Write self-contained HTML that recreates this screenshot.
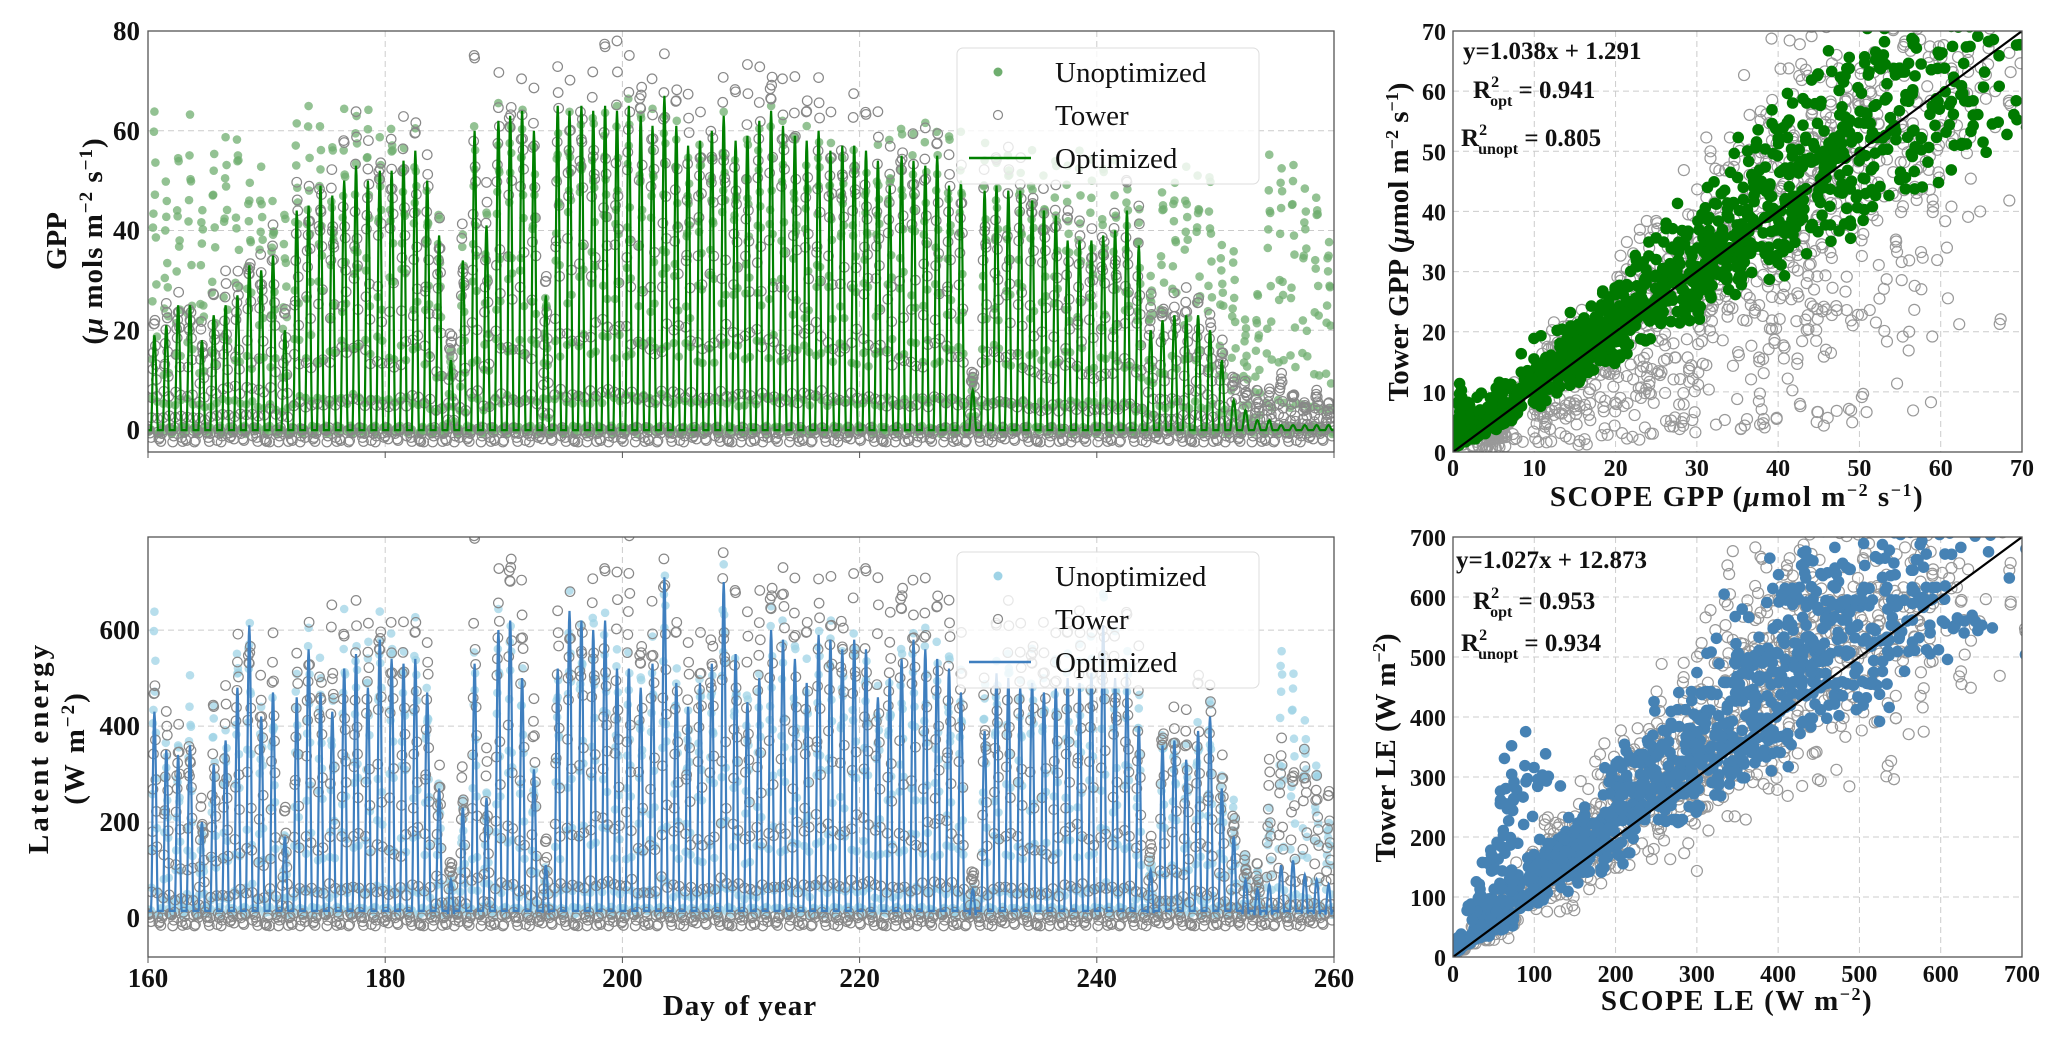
<!DOCTYPE html>
<html><head><meta charset="utf-8">
<style>
html,body{margin:0;padding:0;background:#fff;}
svg{display:block;font-family:"Liberation Serif",serif;}
.tick{font-size:27px;font-weight:bold;fill:#111;}
.stick{font-size:24px;font-weight:bold;fill:#111;}
.ttl{font-size:29px;font-weight:bold;fill:#111;}
.leg{font-size:29px;fill:#111;}
.ann{font-size:25px;font-weight:bold;fill:#111;}
</style></head>
<body>
<svg id="fig" width="2067" height="1045" viewBox="0 0 2067 1045" xmlns="http://www.w3.org/2000/svg">
<g id="gA"></g>
<g id="gB"></g>
<g id="gC"></g>
<g id="gD"></g>
<g>
<text class="ttl" transform="translate(66,241) rotate(-90)" text-anchor="middle">GPP</text>
<text class="ttl" transform="translate(102,241) rotate(-90)" text-anchor="middle" letter-spacing="1">(<tspan font-style="italic">μ</tspan> mols m<tspan dy="-10" font-size="19">−2</tspan><tspan dy="10"> s</tspan><tspan dy="-10" font-size="19">−1</tspan><tspan dy="10">)</tspan></text>
<text class="ttl" transform="translate(48,748) rotate(-90)" text-anchor="middle" letter-spacing="3">Latent  energy</text>
<text class="ttl" transform="translate(84,748) rotate(-90)" text-anchor="middle" letter-spacing="2">(W m<tspan dy="-10" font-size="19">−2</tspan><tspan dy="10">)</tspan></text>
<text class="ttl" x="740" y="1015" text-anchor="middle" letter-spacing="1">Day  of  year</text>
<text class="ttl" transform="translate(1408,242) rotate(-90)" text-anchor="middle" font-size="27">Tower GPP (<tspan font-style="italic">μ</tspan>mol m<tspan dy="-10" font-size="18">−2</tspan><tspan dy="10"> s</tspan><tspan dy="-10" font-size="18">−1</tspan><tspan dy="10">)</tspan></text>
<text class="ttl" x="1737" y="506" text-anchor="middle" font-size="27" letter-spacing="1.5">SCOPE GPP (<tspan font-style="italic">μ</tspan>mol m<tspan dy="-10" font-size="18">−2</tspan><tspan dy="10"> s</tspan><tspan dy="-10" font-size="18">−1</tspan><tspan dy="10">)</tspan></text>
<text class="ttl" transform="translate(1395,748) rotate(-90)" text-anchor="middle" font-size="27">Tower LE (W m<tspan dy="-10" font-size="18">−2</tspan><tspan dy="10">)</tspan></text>
<text class="ttl" x="1737" y="1010" text-anchor="middle" font-size="27" letter-spacing="1.5">SCOPE LE (W m<tspan dy="-10" font-size="18">−2</tspan><tspan dy="10">)</tspan></text>
</g>
<g>
<text class="ann" x="1463" y="59">y=1.038x + 1.291</text>
<text class="ann" x="1473" y="98">R<tspan dy="-11" font-size="16">2</tspan><tspan dx="-9" dy="19" font-size="16">opt</tspan><tspan dy="-8"> = 0.941</tspan></text>
<text class="ann" x="1461" y="146">R<tspan dy="-11" font-size="16">2</tspan><tspan dx="-9" dy="19" font-size="16">unopt</tspan><tspan dy="-8"> = 0.805</tspan></text>
</g>
<g>
<text class="ann" x="1456" y="568">y=1.027x + 12.873</text>
<text class="ann" x="1473" y="609">R<tspan dy="-11" font-size="16">2</tspan><tspan dx="-9" dy="19" font-size="16">opt</tspan><tspan dy="-8"> = 0.953</tspan></text>
<text class="ann" x="1461" y="651">R<tspan dy="-11" font-size="16">2</tspan><tspan dx="-9" dy="19" font-size="16">unopt</tspan><tspan dy="-8"> = 0.934</tspan></text>
</g>
</svg>
<script>
const days = [];for(let d=160;d<260;d++)days.push(d);
const gppOpt=[19,21,25,25,18,23,25,27,33,32,35,20,44,45,49,47,50,53,50,52,52,54,56,50,39,14,34,60,41,62,63,64,60,27,65,64,65,64,65,64,65,63,61,67,61,57,58,60,63,58,59,62,64,61,59,58,60,56,57,57,56,54,49,55,54,53,55,49,50,8,48,49,48,48,46,44,43,38,38,38,39,40,44,37,20,22,23,23,23,20,14,6,4,2,2,1,1,1,1,1];
const gppUnopt=[57,45,50,55,42,50,57,55,50,48,45,40,58,58,55,52,56,60,58,57,57,57,55,47,40,15,35,55,40,57,58,58,55,25,60,58,60,58,60,58,60,58,56,60,56,53,54,55,58,53,54,57,58,56,54,53,55,52,53,53,52,52,57,56,56,55,54,54,52,10,52,52,52,52,51,50,50,50,50,49,48,47,46,40,30,45,50,48,50,47,35,32,20,25,48,50,48,47,44,38];
const gppTower=[20,23,26,25,20,24,27,28,33,32,36,22,45,46,50,48,51,54,51,53,53,55,56,50,40,20,38,66,42,63,64,64,60,28,66,66,66,66,68,66,66,68,64,66,62,61,60,62,65,60,62,64,70,64,62,60,64,60,58,62,56,54,50,55,54,53,54,50,50,12,48,48,48,48,46,44,43,40,38,38,40,40,44,38,24,24,25,25,24,21,17,11,9,7,7,10,7,5,7,5];
const leOpt=[430,350,340,360,200,320,370,480,610,420,470,170,460,560,470,430,520,550,480,580,540,530,540,470,270,80,230,530,250,600,620,500,310,110,520,640,620,600,620,520,520,480,530,710,490,440,490,530,700,550,450,500,600,580,540,490,590,580,560,580,560,460,500,540,580,560,540,520,470,60,390,510,500,480,490,470,480,500,490,510,610,500,510,400,100,360,370,330,390,420,270,170,80,60,70,110,120,90,80,70];
const leTower=[440,390,380,370,230,390,410,520,560,460,520,210,500,580,520,600,520,560,540,590,560,540,560,520,300,120,290,700,300,640,740,640,400,150,580,640,630,650,640,610,700,560,600,730,560,520,560,600,700,600,540,600,680,740,620,560,640,670,640,660,640,600,560,680,640,620,610,600,560,100,460,540,560,540,560,560,520,560,580,560,620,540,560,480,150,380,400,380,460,440,320,220,120,100,280,330,300,320,260,240];
const leUnopt=[570,330,330,440,180,400,380,520,620,400,450,160,480,540,490,420,560,540,520,620,560,560,570,470,260,80,220,500,240,560,580,470,300,100,500,620,600,580,600,500,500,460,510,680,470,420,470,510,670,530,430,480,580,560,520,470,570,560,540,560,540,440,480,520,560,540,520,500,450,60,440,520,520,500,510,490,500,520,510,530,620,520,530,420,120,360,370,330,400,420,280,220,120,90,200,530,460,400,300,200];
const xTicks=[160,180,200,220,240,260];
const gppTicks=[0,20,40,60,80];
const leTicks=[0,200,400,600];
const sGppTicks=[0,10,20,30,40,50,60,70];
const sLeTicks=[0,100,200,300,400,500,600,700];
const jit=[0.12,-0.08,0.15,-0.14,0.03,-0.05,0.1,-0.11,0.06,-0.02,0.09,-0.13,0.04];
const jit2=[-0.07,0.11,0.02,-0.13,0.08,-0.01,0.14,-0.09,0.05,-0.04,0.1];

const NS="http://www.w3.org/2000/svg";
function mk(parent,tag,attrs){const e=document.createElementNS(NS,tag);for(const k in attrs)e.setAttribute(k,attrs[k]);parent.appendChild(e);return e;}
function shape(h){return (h>6&&h<20)?Math.pow(Math.sin(Math.PI*(h-6)/14),1.5):0;}
function lin(d0,d1,r0,r1){return v=>r0+(v-d0)*(r1-r0)/(d1-d0);}
function J(i,h){return jit[(i*5+h*3)%13];}
function J2(i,h){return jit2[(i*7+h*4)%11];}

function grid(g,L,R,T,B,xs,ys,xt,yt){
  xt.forEach(v=>{const l=mk(g,'line',{x1:xs(v),x2:xs(v),y1:T,y2:B,stroke:'#ccc','stroke-dasharray':'6,4','stroke-width':1});});
  yt.forEach(v=>{const l=mk(g,'line',{x1:L,x2:R,y1:ys(v),y2:ys(v),stroke:'#ccc','stroke-dasharray':'6,4','stroke-width':1});});
}
function frame(g,L,R,T,B){const r=mk(g,'rect',{x:L,y:T,width:R-L,height:B-T,fill:'none',stroke:'#555','stroke-width':1.3});}
function yLabels(g,ticks,ys,x,cls){ticks.forEach(v=>{const t=mk(g,'text',{x:x,y:ys(v)+9,'text-anchor':'end',class:cls});t.textContent=v;});}
function xLabels(g,ticks,xs,y,cls){ticks.forEach(v=>{const t=mk(g,'text',{x:xs(v),y:y,'text-anchor':'middle',class:cls});t.textContent=v;});}

function timeSeries(g,T,B,y0,y1,yt,opt,uno,tow,col,ucol,night,showX,clipId){
  const L=148,R=1334;const xs=lin(160,260,L,R),ys=lin(y0,y1,B,T);
  grid(g,L,R,T,B,xs,ys,xTicks,yt);
  const cp=mk(g,'clipPath',{id:clipId});mk(cp,'rect',{x:L,y:T,width:R-L,height:B-T});
  const pg=mk(g,'g',{'clip-path':'url(#'+clipId+')'});
  const ug=mk(pg,'g',{});
  const tg=mk(pg,'g',{});
  let dpath='';const sc=y1/80;
  days.forEach((d,i)=>{
    for(let h=0;h<24;h++){
      const t=d+h/24,s=shape(h);
      const ov=opt[i]*s+night*(s>0?0:1);
      dpath+=(dpath?'L':'M')+xs(t).toFixed(1)+','+ys(ov).toFixed(1);
      if(h%2===0 || (h>6&&h<20)){
        const j=J(i,h),j2=J2(i,h);
        const uv=s>0?uno[i]*s*(1+j):night+sc*j2*6;
        const c=mk(ug,'circle',{cx:xs(t),cy:ys(uv),r:4.3,fill:ucol,'fill-opacity':0.75});
        
        const tv=s>0?tow[i]*s*(1+j2*1.3):night*0.5-sc*1+sc*j*10;
        const c2=mk(tg,'circle',{cx:xs(t),cy:ys(tv),r:4.8,fill:'none',stroke:'#888','stroke-width':1.2});
        
      }
    }
  });
  const p=mk(pg,'path',{d:dpath,fill:'none',stroke:col,'stroke-width':2.2});
  
  frame(g,L,R,T,B);
  yLabels(g,yt,ys,140,'tick');
  if(showX)xLabels(g,xTicks,xs,987,'tick');
  xTicks.forEach(v=>{mk(g,'line',{x1:xs(v),x2:xs(v),y1:B,y2:B+6,stroke:'#555'});});
}
function legend(g,T,col,ucol){
  const b=mk(g,'rect',{x:957,y:T,width:302,height:136,rx:6,fill:'#fff','fill-opacity':0.8,stroke:'#ddd'});
  
  const e1=mk(g,'circle',{cx:998,cy:T+24,r:4.5,fill:ucol});
  const e2=mk(g,'circle',{cx:998,cy:T+67,r:4.5,fill:'none',stroke:'#888','stroke-width':1.2});
  const e3=mk(g,'line',{x1:969,x2:1031,y1:T+110,y2:T+110,stroke:col,'stroke-width':2.5});
  [['Unoptimized',34],['Tower',77],['Optimized',120]].forEach(a=>{const t=mk(g,'text',{x:1055,y:T+a[1],class:'leg'});t.textContent=a[0];});
}
function scatter(g,T,B,max,ticks,opt,uno,tow,col,ly,cid){
  const L=1453,R=2022;const xs=lin(0,max,L,R),ys=lin(0,max,B,T);
  grid(g,L,R,T,B,xs,ys,ticks,ticks);
  const cp=mk(g,'clipPath',{id:cid});mk(cp,'rect',{x:L,y:T,width:R-L,height:B-T});
  const pg=mk(g,'g',{'clip-path':'url(#'+cid+')'});
  const ug=mk(pg,'g',{});
  const og=mk(pg,'g',{});
  days.forEach((d,i)=>{for(let h=7;h<20;h++){const s=shape(h);const j=J(i,h),j2=J2(i,h),j3=jit[(i*3+h*7+5)%13];
    const tv=tow[i]*s*(1+j2*1.3);
    const c=mk(ug,'circle',{cx:xs(uno[i]*s*(1+j*1.5)),cy:ys(tv),r:5.5,fill:'none',stroke:'#999','stroke-width':1.2});
    
    const c2=mk(og,'circle',{cx:xs(opt[i]*s*(1+j3*1.2)),cy:ys(tv),r:5.8,fill:col});
    
  }});
  const l=mk(pg,'line',{x1:xs(0),y1:ys(0),x2:xs(max),y2:ys(max),stroke:'#000','stroke-width':2.2});
  
  frame(g,L,R,T,B);
  yLabels(g,ticks,ys,1446,'stick');
  xLabels(g,ticks,xs,ly,'stick');
}
const gA=document.getElementById('gA'),gB=document.getElementById('gB'),gC=document.getElementById('gC'),gD=document.getElementById('gD');
timeSeries(gA,31,452,-4.4,80,gppTicks,gppOpt,gppUnopt,gppTower,'#008000','#6fae6f',0,false,'cA');
legend(gA,48,'#008000','#6fae6f');
timeSeries(gB,537,957,-81,794,leTicks,leOpt,leUnopt,leTower,'#3f7fbf','#9fd3e6',15,true,'cB');
legend(gB,552,'#3f7fbf','#9fd3e6');
scatter(gC,31,452,70,sGppTicks,gppOpt,gppUnopt,gppTower,'#007a00',476,'cC');
scatter(gD,537,957,700,sLeTicks,leOpt,leUnopt,leTower,'#4682b4',982,'cD');
</script>
</body></html>
